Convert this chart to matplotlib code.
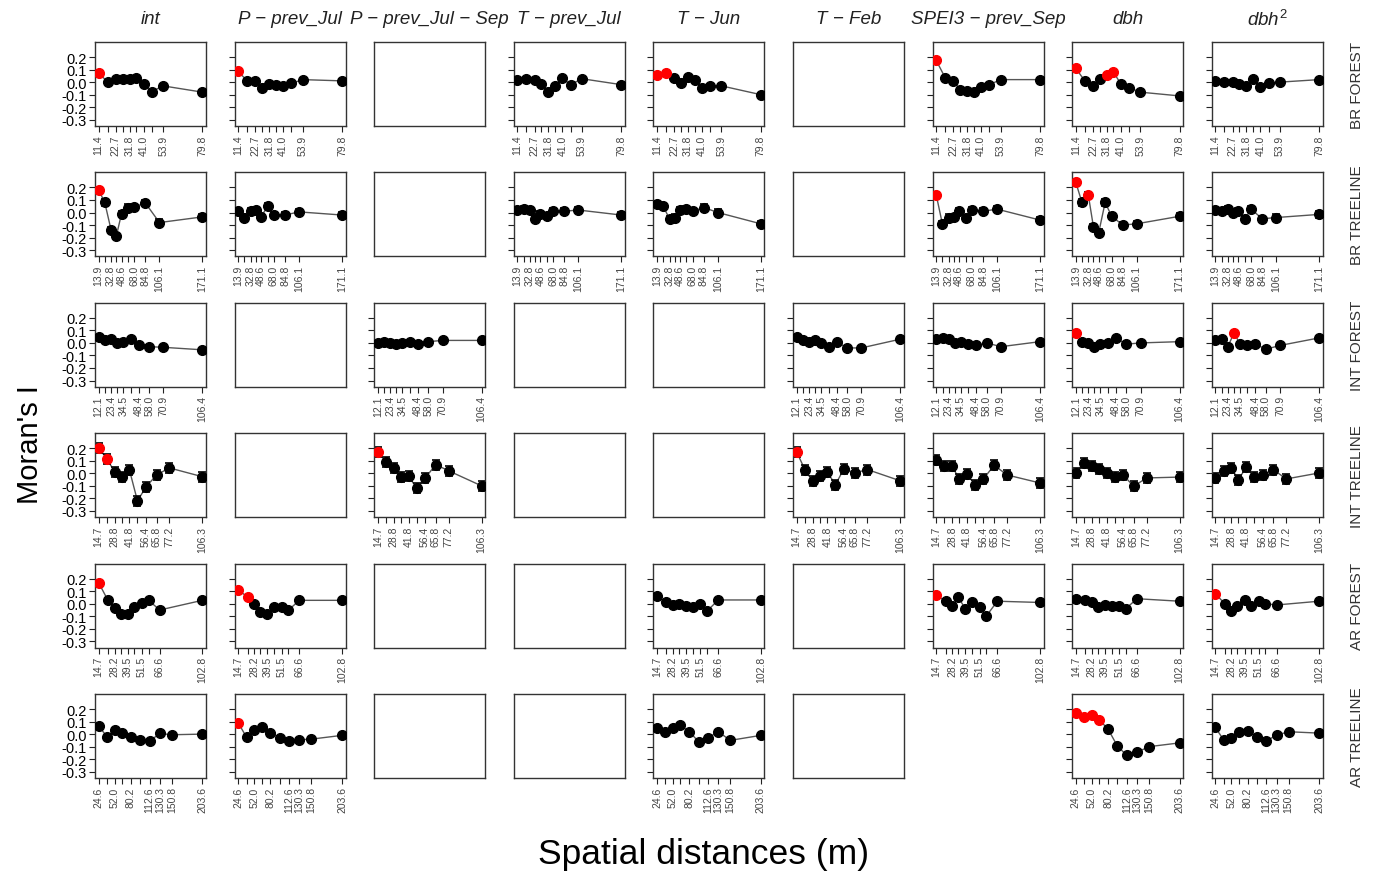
import numpy as np
import matplotlib.pyplot as plt

plt.rcParams['font.family'] = ['Liberation Sans', 'DejaVu Sans']
plt.rcParams['mathtext.fontset'] = 'custom'
plt.rcParams['mathtext.it'] = 'Liberation Sans:italic'
plt.rcParams['mathtext.rm'] = 'Liberation Sans'

variables = ["int", "P-prev_Jul", "P-prev_Jul-Sep", "T-prev_Jul", "T-Jun",
             "T-Feb", "SPEI3-prev_Sep", "dbh", "dbh2"]
col_titles = ["int", "P \u2212 prev_Jul", "P \u2212 prev_Jul \u2212 Sep", "T \u2212 prev_Jul",
              "T \u2212 Jun", "T \u2212 Feb", "SPEI3 \u2212 prev_Sep", "dbh", r"$dbh^2$"]
row_names = ["BR FOREST", "BR TREELINE", "INT FOREST", "INT TREELINE", "AR FOREST", "AR TREELINE"]

y_ticks = [-0.3, -0.2, -0.1, 0.0, 0.1, 0.2]

# ---- BR FOREST
dist_br_forest = [11.4, 17.3, 22.7, 27.2, 31.8, 36.2, 41.0, 46.5, 53.9, 79.8]
lab_br_forest = [11.4, 22.7, 31.8, 41.0, 53.9, 79.8]
se_br_forest = 0.014
moran_br_forest = {
    "int":            [0.075, 0.00, 0.027, 0.027, 0.027, 0.035, -0.013, -0.075, -0.03, -0.08],
    "P-prev_Jul":     [0.085, 0.01, 0.005, -0.05, -0.015, -0.02, -0.03, -0.01, 0.02, 0.01],
    "T-prev_Jul":     [0.02, 0.027, 0.02, -0.013, -0.075, -0.027, 0.03, -0.02, 0.027, -0.02],
    "T-Jun":          [0.053, 0.075, 0.03, -0.005, 0.04, 0.013, -0.048, -0.03, -0.03, -0.10],
    "SPEI3-prev_Sep": [0.173, 0.035, 0.008, -0.06, -0.072, -0.08, -0.04, -0.02, 0.02, 0.02],
    "dbh":            [0.11, 0.01, -0.03, 0.027, 0.053, 0.08, -0.013, -0.045, -0.08, -0.11],
    "dbh2":           [0.01, 0.0, 0.0, -0.015, -0.03, 0.027, -0.035, -0.008, 0.0, 0.02],
}
sig_br_forest = {"int": [0], "P-prev_Jul": [0], "T-Jun": [0, 1],
                 "SPEI3-prev_Sep": [0], "dbh": [0, 4, 5]}

# ---- BR TREELINE
dist_br_tree = [13.9, 23.2, 32.8, 40.6, 48.6, 58.3, 68.0, 84.8, 106.1, 171.1]
lab_br_tree = [13.9, 32.8, 48.6, 68.0, 84.8, 106.1, 171.1]
se_br_tree = 0.025
moran_br_tree = {
    "int":            [0.18, 0.08, -0.14, -0.19, -0.01, 0.04, 0.045, 0.075, -0.08, -0.035],
    "P-prev_Jul":     [0.01, -0.04, 0.01, 0.02, -0.035, 0.05, -0.02, -0.02, 0.005, -0.02],
    "T-prev_Jul":     [0.02, 0.03, 0.02, -0.05, -0.01, -0.03, 0.01, 0.01, 0.02, -0.02],
    "T-Jun":          [0.07, 0.05, -0.05, -0.04, 0.02, 0.03, 0.01, 0.04, 0.0, -0.09],
    "SPEI3-prev_Sep": [0.14, -0.09, -0.04, -0.035, 0.013, -0.043, 0.02, 0.01, 0.027, -0.06],
    "dbh":            [0.24, 0.08, 0.14, -0.115, -0.16, 0.08, -0.027, -0.10, -0.09, -0.03],
    "dbh2":           [0.02, 0.01, 0.027, 0.0, 0.01, -0.05, 0.027, -0.05, -0.04, -0.015],
}
sig_br_tree = {"int": [0], "SPEI3-prev_Sep": [0], "dbh": [0, 2]}

# ---- INT FOREST
dist_int_forest = [12.1, 17.8, 23.4, 29.0, 34.5, 41.2, 48.4, 58.0, 70.9, 106.4]
lab_int_forest = [12.1, 23.4, 34.5, 48.4, 58.0, 70.9, 106.4]
se_int_forest = 0.014
moran_int_forest = {
    "int":            [0.05, 0.02, 0.03, 0.0, 0.01, 0.035, -0.015, -0.03, -0.035, -0.055],
    "P-prev_Jul-Sep": [0.0, 0.01, 0.0, -0.01, 0.0, 0.01, -0.01, 0.01, 0.02, 0.02],
    "T-Feb":          [0.05, 0.02, 0.01, 0.02, 0.0, -0.03, 0.01, -0.04, -0.04, 0.03],
    "SPEI3-prev_Sep": [0.03, 0.04, 0.03, 0.0, 0.01, -0.01, -0.02, 0.0, -0.03, 0.01],
    "dbh":            [0.08, 0.01, 0.0, -0.03, -0.01, 0.0, 0.04, -0.01, 0.0, 0.01],
    "dbh2":           [0.02, 0.03, -0.03, 0.08, -0.01, -0.02, -0.01, -0.05, -0.02, 0.04],
}
sig_int_forest = {"dbh": [0], "dbh2": [3]}

# ---- INT TREELINE
dist_int_tree = [14.7, 22.0, 28.8, 35.0, 41.8, 49.0, 56.4, 65.8, 77.2, 106.3]
lab_int_tree = [14.7, 28.8, 41.8, 56.4, 65.8, 77.2, 106.3]
se_int_tree = 0.04
moran_int_tree = {
    "int":            [0.205, 0.115, 0.013, -0.03, 0.03, -0.22, -0.11, -0.013, 0.043, -0.027],
    "P-prev_Jul-Sep": [0.17, 0.09, 0.04, -0.03, -0.02, -0.12, -0.04, 0.07, 0.02, -0.10],
    "T-Feb":          [0.17, 0.03, -0.065, -0.02, 0.008, -0.09, 0.035, 0.003, 0.03, -0.06],
    "SPEI3-prev_Sep": [0.105, 0.055, 0.055, -0.045, -0.005, -0.093, -0.045, 0.065, -0.013, -0.077],
    "dbh":            [0.003, 0.08, 0.055, 0.035, 0.003, -0.027, -0.013, -0.103, -0.037, -0.03],
    "dbh2":           [-0.037, 0.02, 0.04, -0.05, 0.047, -0.032, -0.013, 0.03, -0.045, 0.003],
}
sig_int_tree = {"int": [0, 1], "P-prev_Jul-Sep": [0], "T-Feb": [0]}

# ---- AR FOREST
dist_ar_forest = [14.7, 22.6, 28.2, 33.4, 39.5, 45.0, 51.5, 57.1, 66.6, 102.8]
lab_ar_forest = [14.7, 28.2, 39.5, 51.5, 66.6, 102.8]
se_ar_forest = 0.014
moran_ar_forest = {
    "int":            [0.168, 0.027, -0.037, -0.085, -0.085, -0.027, 0.003, 0.027, -0.05, 0.027],
    "P-prev_Jul":     [0.107, 0.056, -0.005, -0.064, -0.085, -0.027, -0.024, -0.053, 0.027, 0.027],
    "T-Jun":          [0.06, 0.01, -0.01, 0.0, -0.02, -0.03, 0.0, -0.06, 0.03, 0.03],
    "SPEI3-prev_Sep": [0.07, 0.02, -0.02, 0.05, -0.04, 0.01, -0.03, -0.10, 0.02, 0.01],
    "dbh":            [0.04, 0.03, 0.01, -0.03, -0.01, -0.02, -0.02, -0.04, 0.04, 0.02],
    "dbh2":           [0.08, 0.0, -0.06, -0.02, 0.03, -0.02, 0.02, 0.0, -0.01, 0.02],
}
sig_ar_forest = {"int": [0], "P-prev_Jul": [0, 1], "SPEI3-prev_Sep": [0], "dbh2": [0]}

# ---- AR TREELINE
dist_ar_tree = [24.6, 38.9, 52.0, 64.8, 80.2, 96.3, 112.6, 130.3, 150.8, 203.6]
lab_ar_tree = [24.6, 52.0, 80.2, 112.6, 130.3, 150.8, 203.6]
se_ar_tree = 0.016
moran_ar_tree = {
    "int":        [0.065, -0.02, 0.03, 0.01, -0.02, -0.045, -0.055, 0.005, -0.005, 0.0],
    "P-prev_Jul": [0.09, -0.025, 0.035, 0.055, 0.01, -0.03, -0.055, -0.045, -0.04, -0.01],
    "T-Jun":      [0.05, 0.02, 0.05, 0.07, 0.02, -0.06, -0.03, 0.02, -0.05, -0.01],
    "dbh":        [0.17, 0.14, 0.15, 0.115, 0.04, -0.095, -0.17, -0.145, -0.10, -0.07],
    "dbh2":       [0.053, -0.048, -0.027, 0.019, 0.027, -0.021, -0.053, -0.008, 0.019, 0.008],
}
sig_ar_tree = {"P-prev_Jul": [0], "dbh": [0, 1, 2, 3]}

# panels that are not drawn at all
no_panel = [(5, "SPEI3-prev_Sep")]

row_data = [
    (dist_br_forest, lab_br_forest, se_br_forest, moran_br_forest, sig_br_forest),
    (dist_br_tree, lab_br_tree, se_br_tree, moran_br_tree, sig_br_tree),
    (dist_int_forest, lab_int_forest, se_int_forest, moran_int_forest, sig_int_forest),
    (dist_int_tree, lab_int_tree, se_int_tree, moran_int_tree, sig_int_tree),
    (dist_ar_forest, lab_ar_forest, se_ar_forest, moran_ar_forest, sig_ar_forest),
    (dist_ar_tree, lab_ar_tree, se_ar_tree, moran_ar_tree, sig_ar_tree),
]

W, H = 1381, 879
fig = plt.figure(figsize=(W / 100, H / 100), dpi=100)

col_left = 95
col_step = 139.6
row_top = 43
row_step = 130.4
box_w = 111
box_h = 84
edge = '#333333'

for r, (dist, labs, se, moran, sig) in enumerate(row_data):
    for c, var in enumerate(variables):
        if (r, var) in no_panel:
            continue
        x0 = col_left + c * col_step
        y0 = row_top + r * row_step
        ax = fig.add_axes([x0 / W, 1 - (y0 + box_h) / H, box_w / W, box_h / H])
        for s in ax.spines.values():
            s.set_color(edge)
            s.set_linewidth(1.0)
        if var not in moran:
            ax.set_xticks([])
            ax.set_yticks([])
            continue
        d = np.array(dist)
        m = np.array(moran[var])
        red = np.zeros(len(d), bool)
        red[sig.get(var, [])] = True
        ax.plot(d, m, color='#555555', lw=1.0, zorder=1)
        ax.errorbar(d, m, yerr=se, fmt='none', ecolor='black', elinewidth=1.0,
                    capsize=3.2, capthick=1.2, zorder=2)
        ax.plot(d[~red], m[~red], 'o', color='black', ms=7, zorder=3)
        ax.plot(d[red], m[red], 'o', color='red', ms=7, zorder=4)
        pad = (d[-1] - d[0]) * 0.035
        ax.set_xlim(d[0] - pad, d[-1] + pad)
        ax.set_ylim(-0.35, 0.32)
        ax.set_xticks(d)
        ax.set_xticklabels([f"{v:.1f}" if v in labs else "" for v in d],
                           rotation=90, fontsize=7.5, color='#444444')
        ax.set_yticks(y_ticks)
        if c == 0:
            ax.set_yticklabels([f"{v:.1f}".replace("\u2212", "-") for v in y_ticks], fontsize=10.5)
        else:
            ax.set_yticklabels([])
        ax.tick_params(direction='out', length=4, width=0.8, color='#222222', pad=2)

for c, t in enumerate(col_titles):
    xc = col_left + c * col_step + box_w / 2
    fig.text(xc / W, 1 - 20 / H, t, ha='center', va='center', fontsize=13.5,
             style='italic', color='#222222')

for r, name in enumerate(row_names):
    yc = row_top + r * row_step + box_h / 2
    fig.text(1357 / W, 1 - yc / H, name, ha='center', va='center', rotation=90,
             fontsize=11, color='#333333')

fig.text(30 / W, 1 - 445 / H, "Moran's I", ha='center', va='center', rotation=90, fontsize=21)
fig.text(704 / W, 1 - 855 / H, "Spatial distances (m)", ha='center', va='center', fontsize=25.5)

fig.savefig("out.png", dpi=100)
